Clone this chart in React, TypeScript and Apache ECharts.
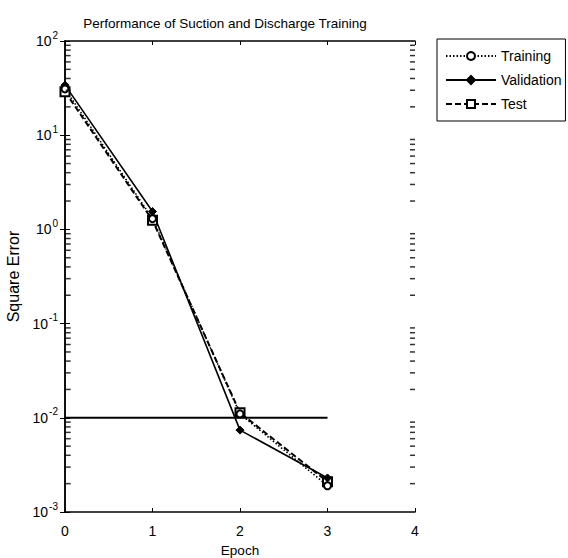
import React, { useEffect, useRef } from "react";
import * as echarts from "echarts";

const epochs = [0, 1, 2, 3];
const trainingValues = [31, 1.3, 0.011, 0.0019];
const validationValues = [34, 1.55, 0.0074, 0.0023];
const testValues = [29, 1.25, 0.0113, 0.0021];
const goalValue = 0.01;
const goalEpochs = [0, 3];
const yMin = 0.001;
const yMax = 100;
const xMin = 0;
const xMax = 4;

const FONT = "'Liberation Sans', Arial, sans-serif";

function minorTickValues(): number[] {
  const out: number[] = [];
  for (let e = -3; e < 2; e++) {
    for (let m = 2; m <= 9; m++) out.push(m * Math.pow(10, e));
  }
  return out;
}

export default function App() {
  const ref = useRef<HTMLDivElement>(null);
  useEffect(() => {
    if (!ref.current) return;
    const chart = echarts.init(ref.current, undefined, { renderer: "svg" });
    const logLabel = (v: number) => {
      const e = Math.round(Math.log10(v));
      return "{b|10}{s|" + e + "}";
    };
    const yCommon = {
      type: "log" as const,
      logBase: 10,
      min: yMin,
      max: yMax,
      splitLine: { show: false },
      axisLine: { show: true, lineStyle: { color: "#000", width: 1.5 } },
      axisTick: { show: true, inside: true, length: 5, lineStyle: { color: "#000", width: 1 } },
    };
    const xCommon = {
      type: "value" as const,
      min: xMin,
      max: xMax,
      interval: 1,
      splitLine: { show: false },
      axisLine: { show: true, lineStyle: { color: "#000", width: 1.5 } },
      axisTick: { show: true, inside: true, length: 4, lineStyle: { color: "#000", width: 1 } },
    };
    const minor = minorTickValues();
    const tickSeries = (xv: number, off: number) => ({
      type: "scatter",
      name: "minor" + xv,
      silent: true,
      clip: false,
      z: 10,
      symbol: "rect",
      symbolSize: [5, 1.5],
      symbolOffset: [off, 0],
      itemStyle: { color: "#000" },
      data: minor.map((v) => [xv, v]),
    });
    chart.setOption({
      animation: false,
      backgroundColor: "#fff",
      textStyle: { fontFamily: FONT },
      title: {
        text: "Performance of Suction and Discharge Training",
        left: 220,
        textAlign: "center",
        top: 11,
        textStyle: { fontSize: 13.5, fontWeight: "normal", color: "#000", fontFamily: FONT },
      },
      grid: { left: 65, top: 41, width: 350, height: 471, show: false, outerBoundsMode: "none", containLabel: false },
      legend: {
        data: ["Training", "Validation", "Test"],
        orient: "vertical",
        left: 437,
        top: 39,
        padding: [10, 4, 10, 8],
        itemGap: 10,
        itemWidth: 50,
        itemHeight: 10,
        borderColor: "#000",
        borderWidth: 1,
        borderRadius: 0,
        textStyle: { fontSize: 14, color: "#000", fontFamily: FONT },
      },
      xAxis: [
        {
          ...xCommon,
          position: "bottom",
          name: "Epoch",
          nameLocation: "middle",
          nameGap: 31,
          nameTextStyle: { fontSize: 13.5, color: "#000", fontFamily: FONT },
          axisLabel: { color: "#000", fontSize: 14, margin: 12, fontFamily: FONT },
        },
        { ...xCommon, position: "top", axisLabel: { show: false } },
      ],
      yAxis: [
        {
          ...yCommon,
          position: "left",
          name: "Square Error",
          nameLocation: "middle",
          nameGap: 37,
          nameTextStyle: { fontSize: 16, color: "#000", fontFamily: FONT },
          axisLabel: {
            color: "#000",
            margin: 7,
            formatter: logLabel,
            rich: {
              b: { fontSize: 14, color: "#000", fontFamily: FONT },
              s: { fontSize: 10, color: "#000", fontFamily: FONT, verticalAlign: "top", padding: [0, 0, 12, 1] },
            },
          },
        },
        { ...yCommon, position: "right", axisLabel: { show: false } },
      ],
      series: [
        tickSeries(xMin, 3.2),
        tickSeries(xMax, -2.5),
        {
          type: "line",
          name: "Goal",
          data: goalEpochs.map((x) => [x, goalValue]),
          showSymbol: false,
          symbol: "none",
          lineStyle: { color: "#000", width: 2 },
          silent: true,
        },
        {
          type: "line",
          name: "Test",
          data: epochs.map((x, i) => [x, testValues[i]]),
          symbol: "rect",
          symbolSize: 9,
          showSymbol: true,
          lineStyle: { color: "#000", width: 2, type: [6, 3] },
          itemStyle: { color: "#fff", borderColor: "#000", borderWidth: 2 },
        },
        {
          type: "line",
          name: "Validation",
          data: epochs.map((x, i) => [x, validationValues[i]]),
          symbol: "diamond",
          symbolSize: 8,
          lineStyle: { color: "#000", width: 1.6, type: "solid" },
          itemStyle: { color: "#000", borderColor: "#000", borderWidth: 1 },
        },
        {
          type: "line",
          name: "Training",
          data: epochs.map((x, i) => [x, trainingValues[i]]),
          symbol: "circle",
          symbolSize: 7,
          lineStyle: { color: "#000", width: 1.6, type: [1.5, 2] },
          itemStyle: { color: "#fff", borderColor: "#000", borderWidth: 2 },
        },
      ],
    });
    return () => chart.dispose();
  }, []);
  return (
    <div
      ref={ref}
      style={{ position: "fixed", left: 0, top: 0, width: 568, height: 558 }}
    />
  );
}
